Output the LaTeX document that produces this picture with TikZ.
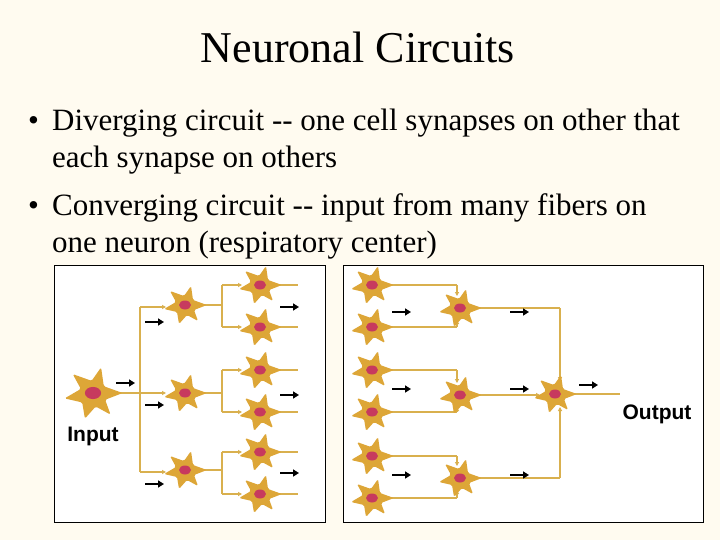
\documentclass[tikz,border=0pt]{standalone}
\usepackage{fontspec}
\setmainfont{Liberation Serif}
\newfontfamily\sansbf{Liberation Sans}
\usetikzlibrary{arrows.meta}
\definecolor{bgbeige}{HTML}{FFFBF0}
\definecolor{cellbody}{HTML}{DDA637}
\definecolor{nucleus}{HTML}{C73A5E}
\definecolor{fibercol}{HTML}{D9B04E}
\tikzset{
  axon/.style={draw=fibercol, line width=1.5pt},
  syn/.style={axon, -{Triangle[length=4pt,width=4pt]}},
  flow/.style={black, line width=2pt, -{Triangle[length=6pt,width=7pt]}},
  panel/.style={draw=black, fill=white, line width=0.8pt},
  bullet/.style={anchor=base west, inner sep=0pt, font=\fontsize{31}{34}\selectfont},
  pics/neuron/.style={code={
    \fill[cellbody, rounded corners=1.5pt] (22,0) -- (8,-5) -- (6,-19) -- (-1,-9) -- (-15,-14) -- (-9,-3)
      -- (-21,4) -- (-8,7) -- (-6,19) -- (2,10) -- (13,16) -- (9,5) -- cycle;
    \fill[cellbody] (0,0) circle [radius=9];
    \fill[nucleus] (0,0) ellipse [x radius=6, y radius=4.5];
  }}
}
\begin{document}
\begin{tikzpicture}[x=1pt,y=-1pt]
  \fill[bgbeige] (0,0) rectangle (720,540);
  \useasboundingbox (0,0) rectangle (720,540);
  % Titel und Text
  \node (title) at (358,47) {\fontsize{44}{48}\selectfont Neuronal Circuits};
  \node[bullet] (b1) at (28,131) {\textbullet};
  \node[bullet] (t1) at (52,131) {Diverging circuit {-}{-} one cell synapses on other that};
  \node[bullet] (t1b) at (52,168) {each synapse on others};
  \node[bullet] (b2) at (28,215) {\textbullet};
  \node[bullet] (t2) at (52,215) {Converging circuit {-}{-} input from many fibers on};
  \node[bullet] (t2b) at (52,252) {one neuron (respiratory center)};
  % Rahmen
  \draw[panel] (54,265) rectangle (325,522);
  \draw[panel] (343,265) rectangle (703,522);
  % divergierend
  \draw[axon] (110,393) -- (140,393);
  \draw[axon] (140,307) -- (140,472);
  \foreach \y in {307,393,472} \draw[syn] (140,\y) -- (166,\y);
  \foreach \y/\a/\b in {305/285/327,393/370/412,470/452/494} {
    \draw[axon] (195,\y) -- (222,\y);
    \draw[axon] (222,\a) -- (222,\b);
    \draw[syn] (222,\a) -- (242,\a);
    \draw[syn] (222,\b) -- (242,\b);
    \pic at (185,\y) {neuron};
  }
  \foreach \y in {285,327,370,412,452,494} {
    \draw[axon] (270,\y) -- (298,\y);
    \pic at (260,\y) {neuron};
  }
  \pic[scale=1.35] at (93,393) {neuron};
  \draw[flow] (116,383) -- (135,383);
  \foreach \y in {322,405,484} \draw[flow] (145,\y) -- (164,\y);
  \foreach \y in {307,395,473} \draw[flow] (280,\y) -- (299,\y);
  \node[font=\sansbf\bfseries\fontsize{21}{22}\selectfont] (input) at (93,436) {Input};
  % konvergierend
  \foreach \y/\a/\b in {308/285/327,395/370/412,478/456/498} {
    \draw[axon] (380,\a) -- (457,\a);
    \draw[syn] (457,\a) -- (457,\y-12);
    \draw[axon] (380,\b) -- (457,\b);
    \draw[syn] (457,\b) -- (457,\y+12);
    \pic at (372,\a) {neuron};
    \pic at (372,\b) {neuron};
  }
  \draw[axon] (468,308) -- (560,308);
  \draw[syn] (560,308) -- (560,381);
  \draw[axon] (468,478) -- (560,478);
  \draw[syn] (560,478) -- (560,407);
  \draw[syn] (468,395) -- (540,395);
  \foreach \y in {308,395,478} \pic at (460,\y) {neuron};
  \draw[axon] (565,394) -- (620,394);
  \pic at (555,394) {neuron};
  \foreach \y in {312,389,475} {
    \draw[flow] (392,\y) -- (411,\y);
    \draw[flow] (510,\y) -- (529,\y);
  }
  \draw[flow] (579,385) -- (598,385);
  \node[font=\sansbf\bfseries\fontsize{21}{22}\selectfont] (output) at (657,414) {Output};
\end{tikzpicture}
\end{document}
